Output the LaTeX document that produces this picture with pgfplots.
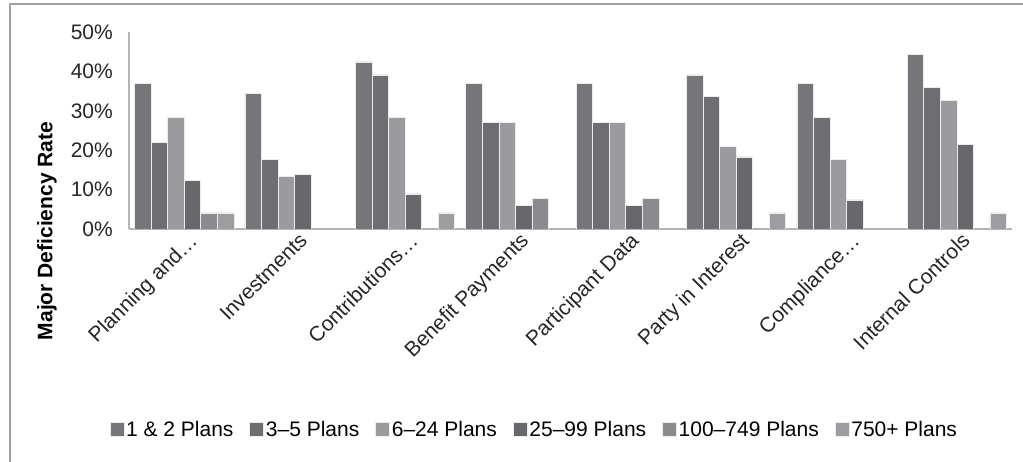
\documentclass[border=0pt]{standalone}
\usepackage{pgfplots}
\pgfplotsset{compat=1.18}
\usepackage{fontspec}
\setmainfont{Liberation Sans}
\definecolor{cA}{HTML}{76767A}
\definecolor{cB}{HTML}{6E6E72}
\definecolor{cC}{HTML}{9B9B9F}
\definecolor{cD}{HTML}{68686C}
\definecolor{cE}{HTML}{8B8B8F}
\definecolor{cF}{HTML}{9D9DA1}
\definecolor{frame}{HTML}{A0A0A0}
\definecolor{axl}{HTML}{B4B4B4}
\begin{document}
\begin{tikzpicture}
\path[use as bounding box] (0pt,0pt) rectangle (1023pt,462pt);
\draw[frame, line width=2.2pt] (10pt,0pt) -- (10pt,458pt) -- (1023pt,458pt);
\begin{axis}[
  at={(129pt,233pt)}, anchor=south west,
  scale only axis, width=883pt, height=197pt,
  ybar=0pt, bar width=0.15,
  xmin=-0.5, xmax=7.5, ymin=0, ymax=50,
  xtick={0,...,7},
  xticklabels={Planning and…, Investments, Contributions…, Benefit Payments, Participant Data, Party in Interest, Compliance…, Internal Controls},
  ytick={0,10,20,30,40,50},
  yticklabel={\pgfmathprintnumber{\tick}\%},
  /pgf/number format/assume math mode=true,
  axis x line*=bottom, axis y line*=left,
  axis line style={axl, line width=1.2pt, -},
  major tick length=0pt,
  tick label style={font=\fontsize{21}{24}\selectfont, text=black!85},
  yticklabel style={anchor=east, inner sep=0pt, xshift=-16pt},
  xticklabel style={rotate=45, anchor=north east, inner sep=0pt, xshift=1pt, yshift=-4pt},
  ylabel={Major Deficiency Rate},
  every axis y label/.style={at={(axis description cs:-0.0929,-0.01)}, rotate=90, anchor=center, font=\fontsize{21}{24}\selectfont\bfseries},
  legend style={at={(axis description cs:0.459,-1.018)}, anchor=center, draw=none, legend columns=6,
    font=\fontsize{21}{24}\selectfont, nodes={inner sep=2pt}, /tikz/every even column/.append style={column sep=14pt}, inner sep=0pt},
  legend image code/.code={\fill[#1] (0pt,-7pt) rectangle (14pt,7pt);},
  every axis plot/.append style={draw=white!85!gray, line width=0.5pt},
]
\addplot[fill=cA] coordinates {(0,37) (1,34.5) (2,42.4) (3,37) (4,37) (5,39.1) (6,37) (7,44.3)};
\addplot[fill=cB] coordinates {(0,22) (1,17.7) (2,39.1) (3,27.1) (4,27.1) (5,33.7) (6,28.3) (7,36)};
\addplot[fill=cC] coordinates {(0,28.3) (1,13.4) (2,28.3) (3,27.1) (4,27.1) (5,20.9) (6,17.7) (7,32.7)};
\addplot[fill=cD] coordinates {(0,12.3) (1,13.8) (2,8.9) (3,5.9) (4,5.9) (5,18.3) (6,7.4) (7,21.5)};
\addplot[fill=cE] coordinates {(0,4.1) (1,0) (2,0) (3,7.7) (4,7.7) (5,0) (6,0) (7,0)};
\addplot[fill=cF] coordinates {(0,4.1) (1,0) (2,4.1) (3,0) (4,0) (5,4.1) (6,0) (7,4.1)};
\legend{1 \& 2 Plans, 3–5 Plans, 6–24 Plans, 25–99 Plans, 100–749 Plans, 750+ Plans}
\end{axis}
\end{tikzpicture}
\end{document}
